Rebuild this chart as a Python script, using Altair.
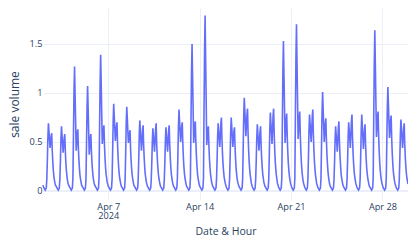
import altair as alt
import pandas as pd

start = "2024-04-02 00:00"

# hourly sale volume, one row per day (24 hours)
week1 = [
    .06,.04,.03,.02,.01,.02,.03,.12,.31,.55,.69,.61,.52,.44,.50,.56,.59,.41,.30,.21,.15,.11,.08,.06,  # Apr 2
    .05,.04,.03,.02,.01,.02,.03,.12,.30,.53,.66,.57,.48,.39,.47,.54,.58,.41,.29,.21,.15,.11,.08,.06,  # Apr 3
    .05,.04,.03,.02,.01,.02,.03,.13,.57,1.02,1.27,.98,.70,.41,.50,.59,.63,.44,.32,.23,.16,.12,.09,.06,  # Apr 4
    .05,.04,.03,.02,.01,.02,.03,.12,.48,.86,1.07,.84,.60,.37,.45,.54,.58,.41,.29,.21,.15,.11,.08,.06,  # Apr 5
    .05,.04,.03,.02,.01,.02,.03,.13,.63,1.11,1.39,1.09,.78,.48,.56,.63,.67,.47,.34,.24,.17,.13,.09,.07,  # Apr 6
    .05,.04,.03,.02,.01,.02,.03,.12,.40,.71,.89,.76,.64,.51,.59,.66,.70,.49,.35,.25,.18,.13,.10,.07,  # Apr 7
    .05,.04,.03,.02,.01,.02,.03,.12,.39,.69,.86,.74,.61,.49,.54,.59,.62,.43,.31,.22,.16,.12,.09,.06,  # Apr 8
]
week2 = [
    .05,.04,.03,.02,.01,.02,.03,.12,.32,.58,.72,.62,.51,.41,.51,.62,.67,.47,.34,.24,.17,.13,.09,.07,  # Apr 9
    .05,.04,.03,.02,.01,.02,.03,.12,.29,.51,.64,.56,.48,.40,.52,.63,.69,.48,.35,.25,.18,.13,.10,.07,  # Apr 10
    .05,.04,.03,.02,.01,.02,.03,.12,.29,.52,.65,.57,.48,.40,.51,.62,.67,.47,.34,.24,.17,.13,.09,.07,  # Apr 11
    .05,.04,.03,.02,.01,.02,.03,.12,.37,.66,.83,.72,.61,.50,.58,.66,.70,.49,.35,.25,.18,.13,.10,.07,  # Apr 12
    .05,.04,.03,.02,.01,.02,.03,.13,.68,1.20,1.50,1.16,.83,.49,.58,.67,.71,.50,.36,.26,.18,.13,.10,.07,  # Apr 13
    .05,.04,.03,.02,.01,.02,.03,.13,.81,1.43,1.79,1.35,.91,.47,.55,.62,.66,.46,.33,.24,.17,.13,.09,.07,  # Apr 14
    .05,.04,.03,.02,.01,.02,.03,.12,.31,.55,.69,.61,.53,.45,.57,.69,.75,.53,.38,.27,.20,.14,.11,.08,  # Apr 15
]
week3 = [
    .06,.04,.03,.02,.01,.02,.03,.12,.34,.60,.75,.65,.55,.45,.53,.61,.65,.46,.33,.23,.17,.12,.09,.07,  # Apr 16
    .05,.04,.03,.02,.01,.02,.03,.12,.43,.76,.95,.82,.69,.56,.67,.78,.84,.59,.42,.30,.22,.16,.12,.08,  # Apr 17
    .06,.04,.03,.02,.01,.02,.03,.12,.31,.54,.68,.59,.50,.41,.51,.61,.66,.46,.33,.24,.17,.13,.09,.07,  # Apr 18
    .05,.04,.03,.02,.01,.02,.03,.12,.36,.64,.80,.69,.59,.48,.62,.77,.84,.59,.42,.30,.22,.16,.12,.08,  # Apr 19
    .06,.04,.03,.02,.01,.02,.03,.13,.69,1.22,1.53,1.18,.84,.49,.61,.73,.79,.55,.40,.28,.21,.15,.11,.08,  # Apr 20
    .06,.04,.03,.02,.01,.02,.03,.13,.77,1.36,1.70,1.31,.92,.53,.64,.75,.81,.57,.41,.29,.21,.15,.11,.08,  # Apr 21
    .06,.04,.03,.02,.01,.02,.03,.12,.35,.62,.78,.69,.59,.50,.63,.76,.83,.58,.42,.30,.22,.16,.12,.08,  # Apr 22
]
week4 = [
    .06,.04,.03,.02,.01,.02,.03,.12,.45,.81,1.01,.84,.67,.50,.60,.69,.74,.52,.37,.27,.19,.14,.10,.07,  # Apr 23
    .05,.04,.03,.02,.01,.02,.03,.12,.30,.53,.66,.57,.49,.40,.52,.65,.71,.50,.36,.26,.18,.13,.10,.07,  # Apr 24
    .05,.04,.03,.02,.01,.02,.03,.12,.32,.56,.70,.61,.53,.44,.58,.71,.78,.55,.39,.28,.20,.15,.11,.08,  # Apr 25
    .06,.04,.03,.02,.01,.02,.03,.12,.35,.62,.78,.66,.55,.43,.53,.63,.68,.48,.34,.24,.18,.13,.10,.07,  # Apr 26
    .05,.04,.03,.02,.01,.02,.03,.13,.74,1.31,1.64,1.28,.91,.55,.65,.76,.81,.57,.41,.29,.21,.15,.11,.08,  # Apr 27
    .06,.04,.03,.02,.01,.02,.03,.12,.48,.85,1.06,.89,.71,.54,.63,.72,.77,.54,.39,.28,.20,.15,.11,.08,  # Apr 28
    .06,.04,.03,.02,.01,.02,.03,.12,.33,.58,.73,.63,.54,.44,.54,.64,.69,.48,.35,.25,.18,.13,.10,.07,  # Apr 29
]

y_ticks = [0, 0.5, 1, 1.5]
x_tick_days = [7, 14, 21, 28]
zero_level = [0]

values = week1 + week2 + week3 + week4
hours = pd.date_range(start, periods=len(values), freq="h")
df = pd.DataFrame({"t": hours, "v": values})

FONT = "Open Sans"
TXT = "#2a3f5f"
GRID = "#EBF0F8"

x_ticks = [alt.DateTime(year=2024, month=4, date=d) for d in x_tick_days]

x_enc = alt.X(
    "t:T",
    title="Date & Hour",
    scale=alt.Scale(nice=False),
    axis=alt.Axis(
        values=x_ticks,
        labelExpr="date(datum.value) == 7 ? [timeFormat(datum.value, '%b %-d'), '2024'] : timeFormat(datum.value, '%b %-d')",
        grid=True,
        ticks=False,
        tickSize=0,
        domain=False,
        labelPadding=2,
        labelFontSize=9.2,
        labelFont=FONT,
        labelColor=TXT,
        labelLineHeight=9.5,
        labelFlush=False,
        labelOverlap=False,
        titleFont=FONT,
        titleFontSize=10.5,
        titleFontWeight="normal",
        titleColor=TXT,
        titleBaseline="alphabetic",
        titleY=34.6,
    ),
)

y_axis = alt.Axis(
    values=y_ticks,
    format=".1~f",
    grid=True,
    ticks=False,
    tickSize=0,
    domain=False,
    labelPadding=1,
    labelFontSize=9.2,
    labelFont=FONT,
    labelColor=TXT,
    titleFont=FONT,
    titleFontSize=12,
    titleFontWeight="normal",
    titleColor=TXT,
    titleBaseline="alphabetic",
    titleX=-24.5,
)
y_scale = alt.Scale(domain=[-0.092, 1.867], nice=False, zero=False)

zero = alt.Chart(pd.DataFrame({"z": zero_level})).mark_rule(
    color=GRID, strokeWidth=1.8
).encode(y=alt.Y("z:Q", title="sale volume", scale=y_scale, axis=y_axis))

line = alt.Chart(df).mark_line(color="#636efa", strokeWidth=1.6).encode(
    x=x_enc,
    y=alt.Y("v:Q", title="sale volume", scale=y_scale, axis=y_axis),
)

chart = alt.layer(zero, line).properties(
    width=365,
    height=192,
    padding={"left": 35, "top": 0, "right": 0, "bottom": 40},
    autosize=alt.AutoSizeParams(type="none"),
).configure_view(stroke=None).configure_axis(
    gridColor=GRID, gridWidth=1
)

chart.save("out.html", embed_options={"renderer": "svg", "actions": False})
